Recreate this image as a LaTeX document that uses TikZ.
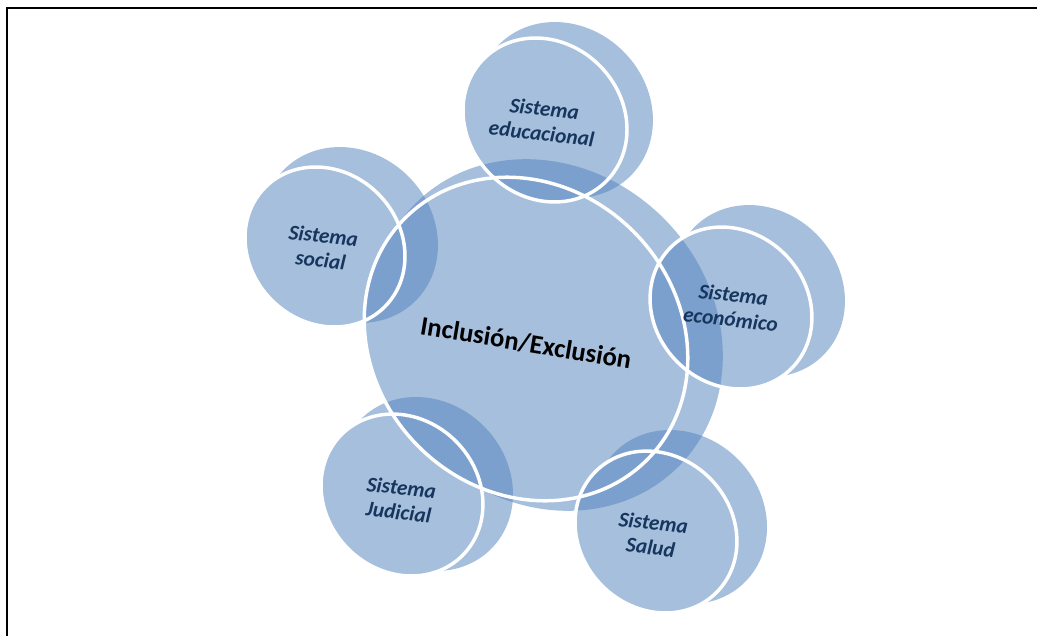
\documentclass[tikz,border=0pt]{standalone}
\usepackage{fontspec}
\setmainfont{Carlito}
\definecolor{lite}{RGB}{166,191,221}
\definecolor{darkb}{RGB}{123,160,205}
\definecolor{navy}{RGB}{23,54,93}
\begin{document}
\begin{tikzpicture}[x=0.75pt,y=-0.75pt,
  satxt/.style={text=navy, font=\fontsize{16}{18.5}\selectfont\bfseries\itshape, align=center, rotate=-6.5, inner sep=0pt},
  cetxt/.style={text=black, font=\fontsize{20}{24}\selectfont\bfseries, rotate=-9.5, inner sep=0pt},
  outl/.style={draw=white, line width=2.6pt},
  frame/.style={draw=black, line width=1.6pt}]
\useasboundingbox (0,0) rectangle (1037,635);
\fill[white] (0,0) rectangle (1037,635);
% back discs
\fill[lite] (547,335) circle[x radius=186,y radius=165,rotate=-45];
\fill[lite] (565,110) circle[x radius=92.9,y radius=82.7,rotate=-45];
\fill[lite] (350,235) circle[x radius=92.9,y radius=82.7,rotate=-45];
\fill[lite] (759,291) circle[x radius=90.8,y radius=80.8,rotate=-45];
\fill[lite] (426,484) circle[x radius=91.9,y radius=81.8,rotate=-45];
\fill[lite] (680,517) circle[x radius=91.9,y radius=81.8,rotate=-45];
% front discs
\fill[lite] (526,339) circle[x radius=171,y radius=152,rotate=-45];
\fill[lite] (545,120) circle[x radius=86.6,y radius=77.1,rotate=-45];
\fill[lite] (325,247) circle[x radius=84.5,y radius=75.2,rotate=-45];
\fill[lite] (731,308) circle[x radius=85.5,y radius=76.1,rotate=-45];
\fill[lite] (402,495) circle[x radius=85.5,y radius=76.1,rotate=-45];
\fill[lite] (656,532) circle[x radius=85.5,y radius=76.1,rotate=-45];
% overlaps
\begin{scope}
\clip (526,339) circle[x radius=171,y radius=152,rotate=-45]
      (547,335) circle[x radius=186,y radius=165,rotate=-45];
\fill[darkb] (565,110) circle[x radius=92.9,y radius=82.7,rotate=-45]
             (545,120) circle[x radius=86.6,y radius=77.1,rotate=-45];
\fill[darkb] (350,235) circle[x radius=92.9,y radius=82.7,rotate=-45]
             (325,247) circle[x radius=84.5,y radius=75.2,rotate=-45];
\fill[darkb] (759,291) circle[x radius=90.8,y radius=80.8,rotate=-45]
             (731,308) circle[x radius=85.5,y radius=76.1,rotate=-45];
\fill[darkb] (426,484) circle[x radius=91.9,y radius=81.8,rotate=-45]
             (402,495) circle[x radius=85.5,y radius=76.1,rotate=-45];
\fill[darkb] (680,517) circle[x radius=91.9,y radius=81.8,rotate=-45]
             (656,532) circle[x radius=85.5,y radius=76.1,rotate=-45];
\end{scope}
% white rims
\draw[outl] (526,339) circle[x radius=171,y radius=152,rotate=-45];
\draw[outl] (545,120) circle[x radius=86.6,y radius=77.1,rotate=-45];
\draw[outl] (325,247) circle[x radius=84.5,y radius=75.2,rotate=-45];
\draw[outl] (731,308) circle[x radius=85.5,y radius=76.1,rotate=-45];
\draw[outl] (402,495) circle[x radius=85.5,y radius=76.1,rotate=-45];
\draw[outl] (656,532) circle[x radius=85.5,y radius=76.1,rotate=-45];
% texts
\node[cetxt] (cen) at (526,343) {Inclusión/Exclusión};
\node[satxt] (edu) at (543,121) {Sistema\\educacional};
\node[satxt] (soc) at (322,248) {Sistema\\social};
\node[satxt] (eco) at (732,307) {Sistema\\económico};
\node[satxt] (jud) at (400,500) {Sistema\\Judicial};
\node[satxt] (sal) at (652,535) {Sistema\\Salud};
% frame
\draw[frame] (7,640) -- (7,8) -- (1042,8);
\end{tikzpicture}
\end{document}
